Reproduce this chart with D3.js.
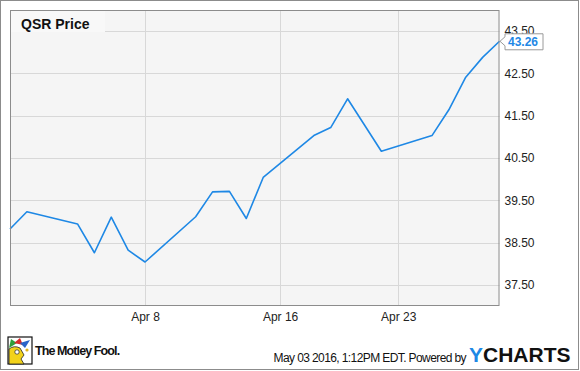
<!DOCTYPE html>
<html>
<head>
<meta charset="utf-8">
<script src="https://cdnjs.cloudflare.com/ajax/libs/d3/7.8.5/d3.min.js"></script>
<style>
  body { margin: 0; background: #fff; }
  svg { display: block; font-family: "Liberation Sans", Arial, sans-serif; }
</style>
</head>
<body>
<script>
var svgWidth = 580;
var svgHeight = 371;

// chart data
var dates = ["2016-03-31", "2016-04-01", "2016-04-04", "2016-04-05", "2016-04-06",
             "2016-04-07", "2016-04-08", "2016-04-11", "2016-04-12", "2016-04-13",
             "2016-04-14", "2016-04-15", "2016-04-18", "2016-04-19", "2016-04-20",
             "2016-04-21", "2016-04-22", "2016-04-25", "2016-04-26", "2016-04-27",
             "2016-04-28", "2016-04-29"];
var prices = [38.82, 39.23, 38.94, 38.26, 39.10,
              38.32, 38.04, 39.11, 39.70, 39.71,
              39.07, 40.04, 41.03, 41.22, 41.90,
              41.28, 40.66, 41.03, 41.64, 42.41,
              42.88, 43.26];
var yTicks = [37.5, 38.5, 39.5, 40.5, 41.5, 42.5, 43.5];
var xTicks = ["2016-04-08", "2016-04-16", "2016-04-23"];
var seriesName = "QSR Price";

var parseDate = d3.timeParse("%Y-%m-%d");
var data = dates.map(function(d, i) { return {date: parseDate(d), value: prices[i]}; });

var plot = {left: 10, top: 10, right: 499.5, bottom: 306};

var svg = d3.select("body")
  .append("svg")
  .attr("width", svgWidth)
  .attr("height", svgHeight);

// outer frame
svg.append("rect")
  .attr("x", 0.5).attr("y", 0.5)
  .attr("width", svgWidth - 2).attr("height", svgHeight - 2)
  .attr("fill", "#fff")
  .attr("stroke", "#8c8c8c");

var xScale = d3.scaleTime()
  .domain([parseDate(dates[0]), parseDate(dates[dates.length - 1])])
  .range([plot.left, plot.right]);

var yScale = d3.scaleLinear()
  .domain([37, 44])
  .range([plot.bottom, plot.top]);

// plot background
svg.append("rect")
  .attr("x", plot.left).attr("y", plot.top)
  .attr("width", plot.right - plot.left).attr("height", plot.bottom - plot.top)
  .attr("fill", "#f5f5f5");

// grid lines
svg.append("g").selectAll("line")
  .data(yTicks)
  .join("line")
  .attr("x1", plot.left).attr("x2", plot.right)
  .attr("y1", function(d) { return Math.round(yScale(d)) + 0.5; })
  .attr("y2", function(d) { return Math.round(yScale(d)) + 0.5; })
  .attr("stroke", "#d8d8d8");

svg.append("g").selectAll("line")
  .data(xTicks.map(parseDate))
  .join("line")
  .attr("x1", function(d) { return Math.round(xScale(d)) + 0.5; })
  .attr("x2", function(d) { return Math.round(xScale(d)) + 0.5; })
  .attr("y1", plot.top).attr("y2", plot.bottom)
  .attr("stroke", "#d8d8d8");

// legend box
svg.append("rect")
  .attr("x", plot.left).attr("y", plot.top)
  .attr("width", 95).attr("height", 22)
  .attr("fill", "#f8f8f8");
svg.append("text")
  .attr("x", 21).attr("y", 29)
  .attr("font-size", 14).attr("font-weight", "bold")
  .attr("fill", "#111")
  .text(seriesName);

// price line
var line = d3.line()
  .x(function(d) { return xScale(d.date); })
  .y(function(d) { return yScale(d.value); });

svg.append("path")
  .datum(data)
  .attr("d", line)
  .attr("fill", "none")
  .attr("stroke", "#1e88e5")
  .attr("stroke-width", 1.6)
  .attr("stroke-linejoin", "round");

// plot border
svg.append("rect")
  .attr("x", plot.left + 0.5).attr("y", plot.top + 0.5)
  .attr("width", plot.right - plot.left - 1).attr("height", plot.bottom - plot.top - 1)
  .attr("fill", "none")
  .attr("stroke", "#8c8c8c");

// axes
var yAxis = d3.axisRight(yScale)
  .tickValues(yTicks)
  .tickFormat(d3.format(".2f"))
  .tickSize(0)
  .tickPadding(5);

var gY = svg.append("g")
  .attr("transform", "translate(" + plot.right + ",0)")
  .call(yAxis);
gY.select(".domain").remove();
gY.selectAll("text")
  .attr("font-size", 12)
  .attr("font-family", "Liberation Sans, Arial, sans-serif")
  .attr("fill", "#222");

var xAxis = d3.axisBottom(xScale)
  .tickValues(xTicks.map(parseDate))
  .tickFormat(d3.timeFormat("%b %-d"))
  .tickSize(0)
  .tickPadding(6);

var gX = svg.append("g")
  .attr("transform", "translate(0," + plot.bottom + ")")
  .call(xAxis);
gX.select(".domain").remove();
gX.selectAll("text")
  .attr("font-size", 12)
  .attr("font-family", "Liberation Sans, Arial, sans-serif")
  .attr("fill", "#222");

// last value marker (covers the top tick label, as in the original)
var last = data[data.length - 1];
var lx = xScale(last.date);
var ly = yScale(last.value);
svg.append("path")
  .attr("d", "M" + (lx + 0.5) + "," + ly +
             "L" + (lx + 5.5) + "," + (ly - 4.5) +
             "V" + (ly - 7.5) + "H" + (lx + 43.5) + "V" + (ly + 8.5) +
             "H" + (lx + 5.5) + "V" + (ly + 4.5) + "Z")
  .attr("fill", "#fff")
  .attr("stroke", "#9a9a9a");
svg.append("text")
  .attr("x", lx + 8.5).attr("y", ly + 5)
  .attr("font-size", 12).attr("font-weight", "bold")
  .attr("fill", "#1e88e5")
  .text(d3.format(".2f")(last.value));

// footer: Motley Fool logo
var logo = svg.append("g").attr("transform", "translate(8,337)");
logo.append("rect").attr("width", 24).attr("height", 27).attr("fill", "#fff").attr("stroke", "#111").attr("stroke-width", 1.2);
logo.append("path").attr("d", "M1,27 L1,12 Q6,8 12,11 L16,18 L13,22 L16,27 Z").attr("fill", "#f2d21b").attr("stroke", "#222").attr("stroke-width", 0.8);
logo.append("path").attr("d", "M1,11 L3,2 L9,6 Z").attr("fill", "#2f9e3a");
logo.append("path").attr("d", "M6,6 L12,1 L15,8 Z").attr("fill", "#d62b2b");
logo.append("path").attr("d", "M12,6 L22,3 L17,11 Z").attr("fill", "#2a63c8");
logo.append("circle").attr("cx", 9).attr("cy", 15).attr("r", 2.2).attr("fill", "#fff").attr("stroke", "#222").attr("stroke-width", 0.7);
logo.append("circle").attr("cx", 19).attr("cy", 13).attr("r", 1.6).attr("fill", "#e2b21b");
svg.append("text")
  .attr("x", 35).attr("y", 355)
  .attr("font-size", 12.5).attr("font-weight", "bold")
  .attr("letter-spacing", -0.9)
  .attr("fill", "#111")
  .text("The Motley Fool.");

// footer: timestamp and YCharts
svg.append("text")
  .attr("x", 466).attr("y", 362)
  .attr("text-anchor", "end")
  .attr("font-size", 12)
  .attr("letter-spacing", -0.6)
  .attr("fill", "#111")
  .text("May 03 2016, 1:12PM EDT.  Powered by");
var yc = svg.append("text")
  .attr("x", 469).attr("y", 362)
  .attr("font-size", 21).attr("font-weight", "bold")
  .attr("fill", "#111");
yc.append("tspan").attr("fill", "#1e88e5").text("Y");
yc.append("tspan").text("CHARTS");
</script>
</body>
</html>
